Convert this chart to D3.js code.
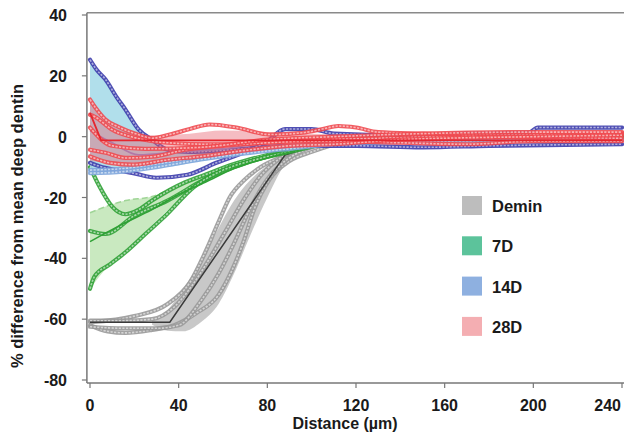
<!DOCTYPE html>
<html>
<head>
<meta charset="utf-8">
<script src="https://cdn.jsdelivr.net/npm/d3@7"></script>
<style>
  body { margin: 0; background: #fff; }
  text { font-family: "Liberation Sans", Arial, sans-serif; font-weight: bold; fill: #1a1a1a; }
</style>
</head>
<body>
<div id="wrapper"></div>
<script>
// axis ticks
const xTicks = [0, 40, 80, 120, 160, 200, 240];
const yTicks = [40, 20, 0, -20, -40, -60, -80];

// legend entries
const groups = ["Demin", "7D", "14D", "28D"];
const legendColors = ["#bdbdbd", "#5cc39b", "#8eb0e0", "#f4aeb2"];

// Demin: replicate profiles [distance, %diff], band [distance, low, high], mean
const deminReps = [
  [[0,-61],[20,-59],[35,-55],[45,-48],[52,-38],[58,-28],[63,-20],[70,-14],[77,-10],[89,-6],[100,-3],[120,-1],[160,0],[240,0]],
  [[0,-62],[8,-64],[16,-64.5],[28,-63.5],[38,-62],[48,-58],[58,-52],[64,-44],[69,-35],[74,-24],[81,-14],[90,-8],[100,-5],[115,-2],[140,-1],[240,-0.5]],
  [[0,-60.5],[15,-60.5],[28,-60],[38,-56],[46,-49],[54,-40],[62,-30],[70,-20],[78,-12],[86,-7],[95,-4],[110,-2],[240,0]],
  [[0,-62.5],[15,-63],[30,-63],[40,-62],[50,-54],[58,-45],[65,-35],[72,-24],[80,-14],[88,-8],[98,-4],[120,-1],[240,0]]
];
const deminBand = [[28,-61.8,-60.5],[35,-63.8,-57],[42,-64,-50],[50,-61,-41],[58,-55,-30],[65,-45,-21],[72,-33,-14.5],[80,-20,-9.5],[88,-9,-6],[95,-4.5,-4]];
const deminMean = [[0,-61],[36,-61],[88,-6],[100,-3],[120,-1],[240,0]];

// 7D
const d7Reps = [
  [[0,-10],[4,-16],[10,-23],[16,-25.5],[22,-24],[28,-21],[43,-15],[52,-12.5],[65,-9],[80,-6],[100,-3],[120,-1],[240,0]],
  [[0,-31],[7,-32],[20,-26],[35,-21],[52,-14],[65,-10],[80,-6.5],[100,-3],[130,-1],[240,0]],
  [[0,-50],[2,-46],[9,-42],[16,-38],[25,-32],[34,-26],[47,-16.5],[60,-11],[75,-7.5],[90,-5],[110,-2],[140,-1],[240,0]]
];
const d7Band = [[0,-50,-25],[9,-42,-22.5],[16,-38,-21],[28,-29,-19.7],[40,-21,-16],[52,-14,-12.5],[62,-10.5,-10],[72,-8,-8]];
const d7Mean = [[0,-34.5],[14,-29],[28,-24],[40,-19],[52,-15],[65,-10.5],[80,-7],[100,-3.5],[130,-1],[240,0]];

// 14D
const d14Reps = [
  [[0,25.3],[3,22],[7,18.8],[12,13],[16,8.9],[22,2.3],[28,-1],[35,-4.3],[45,-5],[60,-4.5],[90,-3],[120,-3],[150,-3.5],[180,-3],[240,-2.5]],
  [[0,-8.6],[4.5,-9.8],[12,-11],[19.5,-12],[30,-13.5],[44,-12.5],[57,-8.6],[70,-5],[80,-1.5],[88,2.5],[100,2.5],[110,1],[140,0.5],[170,1],[198,1.3],[202,3],[240,3]],
  [[0,-11],[15,-10.5],[30,-9],[50,-7],[70,-5],[90,-3],[110,-2],[140,-1.5],[200,-1],[240,-1]],
  [[0,-12],[15,-11.5],[30,-10],[50,-7.5],[70,-5.5],[90,-4],[120,-2],[240,-1]]
];
const d14Light = [false, false, true, true];
const d14Band = [[0,-12,25],[7,-12,19],[16,-11.5,9],[22,-11,2.5],[28,-10.5,-1],[35,-10,-4],[50,-8,-5],[70,-6,-4],[90,-4,-3]];
const d14Mean = [[0,2],[10,-2],[22,-6],[40,-5],[60,-4],[80,-2],[100,-1],[240,0]];

// 28D
const d28Reps = [
  [[0,12.2],[3,9],[7,5.6],[12.6,3.3],[21.6,0.7],[28,-0.5],[36,0.7],[45,2.5],[54,4],[66,3],[81,0.7],[96,1.3],[105,2.5],[112,3.5],[120,3],[130,1.5],[150,1],[180,0.5],[240,1]],
  [[0,7.2],[2,6.6],[10,2.3],[20,-0.3],[35,-2],[55,-2.5],[80,-2],[100,-1],[130,-0.5],[170,0],[240,-0.5]],
  [[0,-4.3],[7,-5.3],[16,-7],[28,-6.6],[43,-4.3],[60,-3],[80,-2],[100,-1.5],[140,-2],[170,-2.5],[200,-1.5],[240,-1.5]],
  [[0,-6.5],[9,-8.6],[19.5,-9.2],[35,-7.6],[50,-6.5],[70,-4.5],[90,-3],[110,-2.5],[140,-1],[200,0],[240,0.5]],
  [[0,3],[10,-3],[25,-4],[50,-3.5],[80,-1],[110,0],[150,1],[200,1.5],[240,1.5]]
];
const d28Band = [[0,-8,12],[5,-8.3,6],[10,-8.6,3.5],[20,-9,1],[30,-8,0.5],[45,-6.5,1],[60,-5,2],[80,-3.5,1.5],[100,-2,1],[140,-1.5,0.5],[240,-1,0.5]];
const d28Mean = [[0,7.8],[5,-1.2],[240,-1.2]];

const W = 624, H = 434;
const svg = d3.select("#wrapper").append("svg")
  .attr("width", W).attr("height", H);

const x = d3.scaleLinear().domain([0, 240]).range([90, 622]);
const y = d3.scaleLinear().domain([-80, 40]).range([380, 15]);

const frameLeft = x(-1.4), frameTop = y(40.7), frameBottom = y(-81);

// frame: top border, left and bottom axis lines
svg.append("line").attr("x1", frameLeft).attr("x2", W).attr("y1", frameTop).attr("y2", frameTop)
  .attr("stroke", "#8a8a8a").attr("stroke-width", 1.5);

const area = d3.area().x(d => x(d[0])).y0(d => y(d[1])).y1(d => y(d[2])).curve(d3.curveMonotoneX);
const smooth = d3.line().x(d => x(d[0])).y(d => y(d[1])).curve(d3.curveMonotoneX);
const straight = d3.line().x(d => x(d[0])).y(d => y(d[1]));

const plot = svg.append("g");

// replicate profiles drawn as chains of open markers
const drawChain = (pts, color) => {
  plot.append("path").attr("d", smooth(pts))
    .attr("fill", "none").attr("stroke", color).attr("stroke-width", 4.2)
    .attr("stroke-linecap", "round").attr("opacity", 0.9);
  plot.append("path").attr("d", smooth(pts))
    .attr("fill", "none").attr("stroke", "#fff").attr("stroke-width", 1.6)
    .attr("stroke-dasharray", "2.2,1.4").attr("opacity", 0.55);
};

// Demin
plot.append("path").attr("d", area(deminBand)).attr("fill", "#c2c2c2").attr("opacity", 0.9);
deminReps.forEach(r => drawChain(r, "#999999"));
plot.append("path").attr("d", straight(deminMean)).attr("fill", "none").attr("stroke", "#3a3a3a").attr("stroke-width", 1.5);

// 7D
plot.append("path").attr("d", area(d7Band)).attr("fill", "#bfe5b5").attr("opacity", 0.85);
plot.append("path").attr("d", smooth(d7Band.map(d => [d[0], d[2]]))).attr("fill", "none")
  .attr("stroke", "#9fd596").attr("stroke-width", 1.5).attr("stroke-dasharray", "6,3");
d7Reps.forEach(r => drawChain(r, "#2fa135"));
plot.append("path").attr("d", smooth(d7Mean)).attr("fill", "none").attr("stroke", "#2fa135").attr("stroke-width", 1.6);

// 14D
plot.append("path").attr("d", area(d14Band)).attr("fill", "#a9dbe9").attr("opacity", 0.9);
d14Reps.forEach((r, i) => drawChain(r, d14Light[i] ? "#7fa6dc" : "#3c3cac"));
plot.append("path").attr("d", smooth(d14Mean)).attr("fill", "none").attr("stroke", "#8a8ad0").attr("stroke-width", 1.6);

// 28D
plot.append("path").attr("d", area(d28Band)).attr("fill", "#e8606e").attr("opacity", 0.42);
d28Reps.forEach(r => drawChain(r, "#f04a50"));
plot.append("path").attr("d", straight(d28Mean)).attr("fill", "none").attr("stroke", "#e5262e").attr("stroke-width", 1.8);

// axes
const axes = svg.append("g");
axes.append("line").attr("x1", frameLeft).attr("x2", frameLeft).attr("y1", frameTop).attr("y2", frameBottom)
  .attr("stroke", "#777").attr("stroke-width", 1.5);
axes.append("line").attr("x1", frameLeft).attr("x2", W).attr("y1", frameBottom).attr("y2", frameBottom)
  .attr("stroke", "#777").attr("stroke-width", 1.5);

axes.selectAll(".ytick").data(yTicks).enter().append("line")
  .attr("x1", frameLeft - 5).attr("x2", frameLeft).attr("y1", d => y(d)).attr("y2", d => y(d))
  .attr("stroke", "#777").attr("stroke-width", 1.2);
axes.selectAll(".ylab").data(yTicks).enter().append("text")
  .attr("x", 67).attr("y", d => y(d) + 6).attr("text-anchor", "end")
  .style("font-size", "16px").text(d => d);

axes.selectAll(".xtick").data(xTicks).enter().append("line")
  .attr("x1", d => x(d)).attr("x2", d => x(d)).attr("y1", frameBottom).attr("y2", frameBottom + 5)
  .attr("stroke", "#777").attr("stroke-width", 1.2);
// last label is pulled in so it stays inside the picture
axes.selectAll(".xlab").data(xTicks).enter().append("text")
  .attr("x", (d, i) => i === xTicks.length - 1 ? 621 : x(d)).attr("y", 411)
  .attr("text-anchor", (d, i) => i === xTicks.length - 1 ? "end" : "middle")
  .style("font-size", "16px").text(d => d);

svg.append("text").attr("x", 345).attr("y", 429).attr("text-anchor", "middle")
  .style("font-size", "16px").text("Distance (\u00b5m)");
svg.append("text").attr("transform", "translate(23,226) rotate(-90)").attr("text-anchor", "middle")
  .style("font-size", "16.5px").text("% difference from mean deep dentin");

// legend
const legend = svg.append("g");
legend.selectAll("rect").data(groups).enter().append("rect")
  .attr("x", 462).attr("y", (d, i) => 196 + i * 40.3).attr("width", 20).attr("height", 19)
  .attr("fill", (d, i) => legendColors[i]);
legend.selectAll("text").data(groups).enter().append("text")
  .attr("x", 492).attr("y", (d, i) => 212 + i * 40.3)
  .style("font-size", "16.5px").text(d => d);
</script>
</body>
</html>
